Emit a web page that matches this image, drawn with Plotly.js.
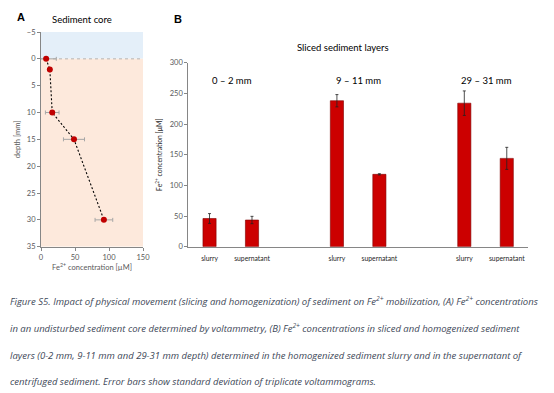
<!DOCTYPE html>
<html><head><meta charset="utf-8">
<script src="https://cdn.plot.ly/plotly-3.0.1.min.js"></script>
<style>html,body{margin:0;padding:0;background:#fff}#c{width:554px;height:393px}</style>
</head><body><div id="c"></div>
<script>
// Panel A: sediment core profile
const depthMm = [0, 2, 10, 15, 30];
const coreFe = [7.5, 13, 16.5, 48.5, 92.5];
const coreFeErr = [15, 0, 10, 15.5, 13];

// Panel B: sliced sediment layers
const layers = ['0 – 2 mm', '9 – 11 mm', '29 – 31 mm'];
const fractions = ['slurry', 'supernatant'];
const sliceFe = [[46, 43.5], [238, 118], [234, 144]];
const sliceErr = [[8, 6], [10, 1], [20, 18]];

const caption = [
  'Figure S5. Impact of physical movement (slicing and homogenization) of sediment on Fe<sup>2+</sup> mobilization, (A) Fe<sup>2+</sup> concentrations',
  'in an undisturbed sediment core determined by voltammetry, (B) Fe<sup>2+</sup> concentrations in sliced and homogenized sediment',
  'layers (0-2 mm, 9-11 mm and 29-31 mm depth) determined in the homogenized sediment slurry and in the supernatant of',
  'centrifuged sediment. Error bars show standard deviation of triplicate voltammograms.'
];

const FONT = 'Lato, Open Sans, Liberation Sans, sans-serif';
const CAPFONT = 'Open Sans, Liberation Sans, sans-serif';
const GRAY = '#595959';

const xs = [], ys = [], es = [], tv = [], tt = [];
layers.forEach((l, g) => fractions.forEach((f, j) => {
  const p = g * 3 + j;
  xs.push(p); ys.push(sliceFe[g][j]); es.push(sliceErr[g][j]); tv.push(p); tt.push(f);
}));

const traces = [
  {x: coreFe, y: depthMm, xaxis: 'x', yaxis: 'y', type: 'scatter', mode: 'lines+markers',
   line: {color: '#000', width: 1.1, dash: '2px,2px'},
   marker: {color: '#c00000', size: 6},
   error_x: {type: 'data', array: coreFeErr, visible: true, color: '#a6a6a6', thickness: 1, width: 2},
   cliponaxis: true, hoverinfo: 'skip'},
  {x: xs, y: ys, xaxis: 'x2', yaxis: 'y2', type: 'bar', width: 0.31,
   marker: {color: '#cc0000', line: {color: '#7f0000', width: 0.6}},
   error_y: {type: 'data', array: es, visible: true, color: '#222', thickness: 0.8, width: 1.5},
   hoverinfo: 'skip'}
];

function ann(text, px, py, opts) {
  return Object.assign({text: text, x: px / 554, y: 1 - py / 393, xref: 'paper', yref: 'paper',
    showarrow: false, xanchor: 'center', yanchor: 'middle', font: {family: FONT, size: 9, color: '#000'}}, opts || {});
}
const anns = [
  ann('<b>A</b>', 21, 17, {font: {family: 'Liberation Sans, sans-serif', size: 11, color: '#000'}}),
  ann('<b>B</b>', 178, 19, {font: {family: 'Liberation Sans, sans-serif', size: 11, color: '#000'}}),
  ann('Sediment core', 82, 19, {font: {family: FONT, size: 9.5, color: '#000'}}),
  ann('Sliced sediment layers', 343, 48, {font: {family: FONT, size: 9.5, color: '#000'}}),
];
const labelX = [231.5, 358, 486];
layers.forEach((l, g) => anns.push(ann(l, labelX[g], 80, {font: {family: FONT, size: 9.5, color: '#000'}})));
const capY = [301, 328, 355, 381];
caption.forEach((c, i) => anns.push(ann('<i>' + c + '</i>', 8, capY[i],
  {xanchor: 'left', font: {family: CAPFONT, size: 9.5, color: '#404858'}})));

const axCommon = {showgrid: false, zeroline: false, showline: true, linecolor: '#868686', linewidth: 1,
  ticks: 'outside', ticklen: 3, tickcolor: '#868686', tickfont: {family: FONT, size: 7.5, color: GRAY}};

const layout = {
  width: 554, height: 393, margin: {l: 0, r: 0, t: 0, b: 0},
  paper_bgcolor: '#fff', plot_bgcolor: 'rgba(0,0,0,0)', showlegend: false,
  xaxis: Object.assign({}, axCommon, {domain: [41/554, 143/554], range: [0, 150], tickvals: [0, 50, 100, 150],
    anchor: 'y', title: {text: 'Fe<sup>2+</sup> concentration [µM]', font: {family: FONT, size: 7.5, color: GRAY}, standoff: 4}}),
  yaxis: Object.assign({}, axCommon, {domain: [146.3/393, 361/393], range: [35, -5], tickvals: [-5,0,5,10,15,20,25,30,35],
    anchor: 'x', title: {text: 'depth [mm]', font: {family: FONT, size: 7.5, color: GRAY}, standoff: 5}}),
  xaxis2: Object.assign({}, axCommon, {domain: [188.3/554, 528/554], range: [-0.5, 7.5], tickvals: tv, ticktext: tt,
    ticks: '', ticklabelstandoff: 5, anchor: 'y2', tickfont: {family: FONT, size: 6.8, color: '#262626'}}),
  yaxis2: Object.assign({}, axCommon, {domain: [146.3/393, 330.3/393], range: [0, 300], tickvals: [0,50,100,150,200,250,300],
    anchor: 'x2', title: {text: 'Fe<sup>2+</sup> concentration [µM]', font: {family: FONT, size: 6.8, color: '#262626'}, standoff: 6}}),
  shapes: [
    {type: 'rect', xref: 'x', yref: 'y', x0: 0, x1: 150, y0: -5, y1: 0, fillcolor: '#e4eff9', line: {width: 0}, layer: 'below'},
    {type: 'rect', xref: 'x', yref: 'y', x0: 0, x1: 150, y0: 0, y1: 35, fillcolor: '#fde9dc', line: {width: 0}, layer: 'below'},
    {type: 'line', xref: 'x', yref: 'y', x0: 0, x1: 150, y0: 0, y1: 0, line: {color: '#a6a6a6', width: 0.8, dash: 'dot'}, layer: 'below'}
  ],
  annotations: anns
};
Plotly.newPlot('c', traces, layout, {staticPlot: true, displayModeBar: false});
</script></body></html>
